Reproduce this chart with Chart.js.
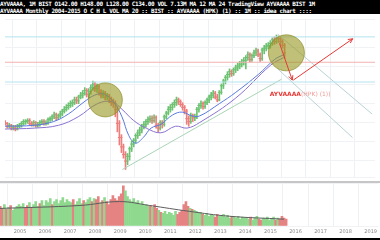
<!DOCTYPE html>
<html>
<head>
<meta charset="utf-8">
<script src="https://cdn.jsdelivr.net/npm/chart.js@4.4.0/dist/chart.umd.min.js"></script>
<style>
  html, body { margin: 0; padding: 0; background: #fff; }
  #wrap { position: relative; width: 380px; height: 240px; overflow: hidden; background: #fff; }
  #head { position: absolute; left: 0; top: 0; width: 380px; height: 14px; background: #000; color: #fff;
          font: bold 6px/7px "DejaVu Sans Mono", monospace; white-space: nowrap; overflow: hidden; letter-spacing: -0.4px; }
  #priceBox { position: absolute; left: 0; top: 14px; width: 380px; height: 168px; }
  #sep { position: absolute; left: 0; top: 181px; width: 380px; height: 2px; background: #c6c6c6; }
  #volBox { position: absolute; left: 0; top: 183px; width: 380px; height: 55px; }
  #foot { position: absolute; left: 0; top: 238px; width: 380px; height: 2px; background: #000; }
</style>
</head>
<body>
<div id="wrap">
  <div id="head">AYVAAAA, 1M BIST O142.00 H148.00 L128.00 C134.00 VOL 7.13M MA 12 MA 24 TradingView AYVAAAA BIST 1M<br>AYVAAAA Monthly 2004-2015 O C H L VOL MA 20 :: BIST :: AYVAAAA (HPK) (1) :: 1M :: idea chart ::::</div>
  <div id="priceBox"><canvas id="priceChart"></canvas></div>
  <div id="sep"></div>
  <div id="volBox"><canvas id="volChart"></canvas></div>
  <div id="foot"></div>
</div>
<script>
// monthly bars, first bar = March 2004
const startYear = 2004;
const startMonth = 3;

const opens = [
  60, 59, 56, 57, 54, 55, 53, 56, 57, 59,
  61, 61, 62, 59, 58, 60, 57, 58, 60, 61, 59, 60,
  63, 64, 66, 68, 65, 67, 69, 72, 74, 76, 78, 80,
  81, 84, 83, 87, 89, 91, 94, 90, 93, 97, 100, 96,
  98, 92, 89, 91, 87, 88, 84, 81, 80, 74, 59, 44,
  34, 26, 19, 24, 32, 37, 41, 46, 49, 52, 56, 58,
  61, 63, 64, 62, 65, 57, 54, 60, 58, 66, 70, 74,
  76, 79, 81, 84, 82, 79, 76, 72, 64, 61, 67, 65,
  66, 74, 78, 80, 77, 81, 84, 87, 89, 91, 87, 84,
  92, 99, 104, 108, 111, 114, 112, 116, 118, 120, 122, 124,
  126, 129, 132, 127, 131, 134, 136, 132, 128, 137, 139, 141,
  142, 144, 148, 146, 150, 149, 146, 142,
];
const highs = [
  62, 60, 59, 58, 57, 57, 58, 59, 61, 63,
  63, 64, 64, 61, 62, 61, 60, 62, 63, 63, 62, 65,
  66, 68, 71, 70, 69, 72, 74, 77, 79, 81, 83, 84,
  87, 87, 89, 92, 94, 97, 96, 96, 100, 104, 103, 101,
  100, 95, 94, 93, 91, 90, 87, 85, 83, 77, 62, 47,
  37, 29, 27, 34, 40, 43, 48, 52, 55, 58, 61, 63,
  66, 67, 67, 68, 67, 59, 62, 62, 68, 72, 77, 79,
  81, 84, 87, 86, 84, 81, 78, 74, 67, 70, 69, 69,
  76, 80, 83, 82, 83, 86, 89, 92, 94, 93, 90, 94,
  101, 106, 110, 114, 117, 116, 118, 121, 123, 125, 127, 129,
  131, 135, 134, 133, 137, 139, 138, 134, 139, 142, 144, 145,
  147, 150, 151, 153, 152, 151, 148, 144,
];
const lows = [
  57, 54, 54, 52, 52, 51, 52, 54, 55, 57,
  58, 59, 57, 56, 56, 55, 55, 56, 58, 57, 57, 58,
  61, 62, 64, 62, 63, 65, 67, 70, 72, 74, 76, 77,
  79, 80, 80, 85, 86, 89, 87, 86, 90, 94, 93, 92,
  89, 86, 86, 84, 84, 81, 78, 76, 66, 50, 36, 28,
  22, 10, 15, 20, 29, 34, 38, 43, 46, 49, 53, 55,
  58, 60, 59, 60, 54, 50, 52, 54, 56, 64, 68, 71,
  73, 76, 78, 79, 77, 73, 69, 58, 56, 59, 61, 62,
  64, 71, 75, 74, 75, 79, 81, 84, 86, 85, 82, 83,
  90, 96, 101, 105, 108, 109, 110, 113, 115, 117, 119, 121,
  117, 126, 124, 125, 129, 131, 130, 125, 126, 133, 136, 138,
  139, 142, 143, 144, 145, 143, 139, 128,
];
const closes = [
  59, 56, 57, 54, 55, 53, 56, 57, 59, 61,
  61, 62, 59, 58, 60, 57, 58, 60, 61, 59, 60, 63,
  64, 66, 68, 65, 67, 69, 72, 74, 76, 78, 80, 81,
  84, 83, 87, 89, 91, 94, 90, 93, 97, 100, 96, 98,
  92, 89, 91, 87, 88, 84, 81, 80, 74, 59, 44, 34,
  26, 19, 24, 32, 37, 41, 46, 49, 52, 56, 58, 61,
  63, 64, 62, 65, 57, 54, 60, 58, 66, 70, 74, 76,
  79, 81, 84, 82, 79, 76, 72, 64, 61, 67, 65, 66,
  74, 78, 80, 77, 81, 84, 87, 89, 91, 87, 84, 92,
  99, 104, 108, 111, 114, 112, 116, 118, 120, 122, 124, 126,
  129, 132, 127, 131, 134, 136, 132, 128, 137, 139, 141, 142,
  144, 148, 146, 150, 149, 146, 142, 134,
];
const volumes = [
  20, 18, 22, 17, 19, 21, 16, 18, 20, 22,
  20, 23, 18, 21, 24, 19, 22, 25, 20, 23, 26, 21,
  26, 24, 28, 22, 25, 27, 23, 26, 29, 24, 27, 25,
  24, 27, 22, 25, 28, 23, 26, 24, 27, 29, 25, 28,
  27, 30, 24, 26, 29, 25, 22, 27, 31, 28, 26, 30,
  33, 41, 36, 30, 27, 25, 28, 24, 26, 22, 25, 21,
  22, 20, 21, 19, 22, 18, 16, 14, 13, 15, 12, 14,
  13, 11, 15, 12, 14, 16, 22, 25, 20, 18, 17, 16,
  15, 13, 14, 12, 11, 13, 10, 12, 11, 9, 12, 10,
  10, 12, 9, 11, 8, 10, 9, 8, 10, 7, 9, 8,
  8, 7, 9, 6, 8, 10, 7, 6, 8, 7, 9, 6,
  7, 9, 6, 8, 7, 10, 8, 7,
];

// moving averages (year, price)
const maFast = [
  [2004.2, 56], [2005.4, 57], [2006.19, 61], [2006.79, 69], [2007.39, 81], [2007.86, 89],
  [2008.26, 90], [2008.66, 81], [2008.98, 66], [2009.26, 46], [2009.53, 38], [2009.85, 44],
  [2010.17, 54], [2010.57, 58], [2011.05, 68], [2011.44, 71], [2011.84, 67], [2012.16, 67],
  [2012.96, 80], [2013.63, 92], [2014.55, 111], [2015.22, 127], [2015.58, 132],
];
const maSlow = [
  [2004.2, 53], [2005.4, 54], [2006.39, 57], [2007.19, 66], [2007.98, 80], [2008.58, 82],
  [2008.98, 74], [2009.46, 62], [2009.97, 54], [2010.57, 49], [2011.17, 56], [2011.64, 54],
  [2012.16, 60], [2013.63, 86], [2015.06, 121], [2015.58, 129],
];
const volMa = [
  [2004.2, 18], [2007.39, 21], [2008.98, 25], [2010.17, 21], [2011.76, 15], [2013.35, 10], [2015.54, 7],
];

// drawings
const supportLine = [[2009.0, 10], [2015.5, 106]];
const channelUpper = [[2015.34, 154], [2019.2, 69]];
const channelLower = [[2015.34, 117], [2018.4, 44]];
const levelsBlue = [151, 103];
const levelsRed = [124];
const circles = [[2008.3, 84, 17], [2015.7, 134, 18]];
const arrows = [
  [[2015.42, 144], [2015.94, 105]],
  [[2015.98, 105], [2018.41, 149]],
];
const noteAt = [2015.02, 90];
const yearTicks = [2005, 2006, 2007, 2008, 2009, 2010, 2011, 2012, 2013, 2014, 2015, 2016, 2017, 2018, 2019];

const xMin = 2004.2;
const xMax = 2019.32;
const upColor = "#6cc271";
const downColor = "#ec7d7a";

const times = closes.map((c, i) => startYear + (startMonth - 1 + i) / 12 + 1 / 24);
const barColors = closes.map((c, i) => (c >= opens[i] ? upColor : downColor));
const volColors = closes.map((c, i) => (c >= opens[i] ? "#8fd98f" : "#e58383"));
const pts = (arr) => arr.map((p) => ({ x: p[0], y: p[1] }));

function lineSet(data, color, width) {
  return {
    type: "line",
    data: data,
    borderColor: color,
    borderWidth: width || 1,
    pointRadius: 0,
    fill: false,
    tension: 0,
  };
}

const drawings = {
  id: "drawings",
  afterDatasetsDraw(chart) {
    const { ctx, scales: { x, y } } = chart;
    ctx.save();
    circles.forEach((c) => {
      ctx.beginPath();
      ctx.arc(x.getPixelForValue(c[0]), y.getPixelForValue(c[1]), c[2], 0, Math.PI * 2);
      ctx.fillStyle = "rgba(150,150,30,0.6)";
      ctx.fill();
      ctx.strokeStyle = "rgba(140,140,40,0.7)";
      ctx.lineWidth = 1;
      ctx.stroke();
    });
    ctx.strokeStyle = "#e53935";
    ctx.fillStyle = "#e53935";
    ctx.lineWidth = 1;
    arrows.forEach((a) => {
      const x1 = x.getPixelForValue(a[0][0]), y1 = y.getPixelForValue(a[0][1]);
      const x2 = x.getPixelForValue(a[1][0]), y2 = y.getPixelForValue(a[1][1]);
      ctx.beginPath();
      ctx.moveTo(x1, y1);
      ctx.lineTo(x2, y2);
      ctx.stroke();
      const ang = Math.atan2(y2 - y1, x2 - x1);
      ctx.beginPath();
      ctx.moveTo(x2, y2);
      ctx.lineTo(x2 - 5 * Math.cos(ang - 0.45), y2 - 5 * Math.sin(ang - 0.45));
      ctx.moveTo(x2, y2);
      ctx.lineTo(x2 - 5 * Math.cos(ang + 0.45), y2 - 5 * Math.sin(ang + 0.45));
      ctx.stroke();
    });
    // note text
    const tx = x.getPixelForValue(noteAt[0]), ty = y.getPixelForValue(noteAt[1]);
    ctx.font = "bold 6px 'DejaVu Sans'";
    ctx.textBaseline = "middle";
    ctx.fillText("AYVAAAA", tx, ty);
    const w = ctx.measureText("AYVAAAA").width;
    ctx.font = "6px 'DejaVu Sans'";
    ctx.fillStyle = "#f09a98";
    ctx.fillText("(HPK) (1))", tx + w, ty);
    ctx.restore();
  },
};

const xScale = {
  type: "linear",
  min: xMin,
  max: xMax,
  offset: false,
  afterBuildTicks: (axis) => { axis.ticks = yearTicks.map((v) => ({ value: v })); },
  grid: { color: "#eef0f4", drawTicks: false },
  border: { display: false },
};

new Chart(document.getElementById("priceChart"), {
  type: "bar",
  data: {
    datasets: [
      lineSet([{ x: xMin, y: levelsBlue[0] }, { x: xMax, y: levelsBlue[0] }], "#b5e3ef"),
      lineSet([{ x: xMin, y: levelsBlue[1] }, { x: xMax, y: levelsBlue[1] }], "#b5e3ef"),
      lineSet([{ x: xMin, y: levelsRed[0] }, { x: xMax, y: levelsRed[0] }], "#f2b3b3"),
      lineSet(pts(supportLine), "#a9d4b6"),
      lineSet(pts(channelUpper), "#b9d2d4"),
      lineSet(pts(channelLower), "#b9d2d4"),
      Object.assign(lineSet(pts(maSlow), "#8a72d0"), { tension: 0.4 }),
      Object.assign(lineSet(pts(maFast), "#5a78e0"), { tension: 0.4 }),
      {
        data: times.map((t, i) => ({ x: t, y: [lows[i], highs[i]] })),
        backgroundColor: barColors,
        barThickness: 1,
        grouped: false,
      },
      {
        // open / close ticks of the OHLC bars
        type: "scatter",
        data: times.map((t, i) => ({ x: t, y: closes[i] })),
        pointStyle: "line",
        pointRadius: 1.5,
        borderWidth: 1,
        borderColor: barColors,
      },
      {
        type: "scatter",
        data: times.map((t, i) => ({ x: t, y: opens[i] })),
        pointStyle: "line",
        pointRadius: 1,
        borderWidth: 1,
        borderColor: barColors,
      },
    ],
  },
  options: {
    responsive: true,
    maintainAspectRatio: false,
    animation: false,
    layout: { padding: 0 },
    scales: {
      x: Object.assign({}, xScale, { ticks: { display: false, padding: 0 } }),
      y: {
        min: 2,
        max: 170,
        ticks: { display: false, stepSize: 20, padding: 0 },
        grid: { color: "#f1f2f6", drawTicks: false },
        border: { display: false },
      },
    },
    plugins: { legend: { display: false }, tooltip: { enabled: false } },
  },
  plugins: [drawings],
});

new Chart(document.getElementById("volChart"), {
  type: "bar",
  data: {
    datasets: [
      Object.assign(lineSet(pts(volMa), "#5d5d5d"), { tension: 0.4 }),
      {
        data: times.map((t, i) => ({ x: t, y: volumes[i] })),
        backgroundColor: volColors,
        barThickness: 2,
        grouped: false,
      },
    ],
  },
  options: {
    responsive: true,
    maintainAspectRatio: false,
    animation: false,
    layout: { padding: 0 },
    scales: {
      x: Object.assign({}, xScale, {
        ticks: {
          padding: 3,
          color: "#8a8a8a",
          font: { size: 5, family: "DejaVu Sans" },
          maxRotation: 0,
          callback: (v) => String(v),
        },
      }),
      y: {
        min: 0,
        max: 44,
        ticks: { display: false, padding: 0 },
        grid: { color: "#f1f2f6", drawTicks: false },
        border: { display: false },
      },
    },
    plugins: { legend: { display: false }, tooltip: { enabled: false } },
  },
});
</script>
</body>
</html>
